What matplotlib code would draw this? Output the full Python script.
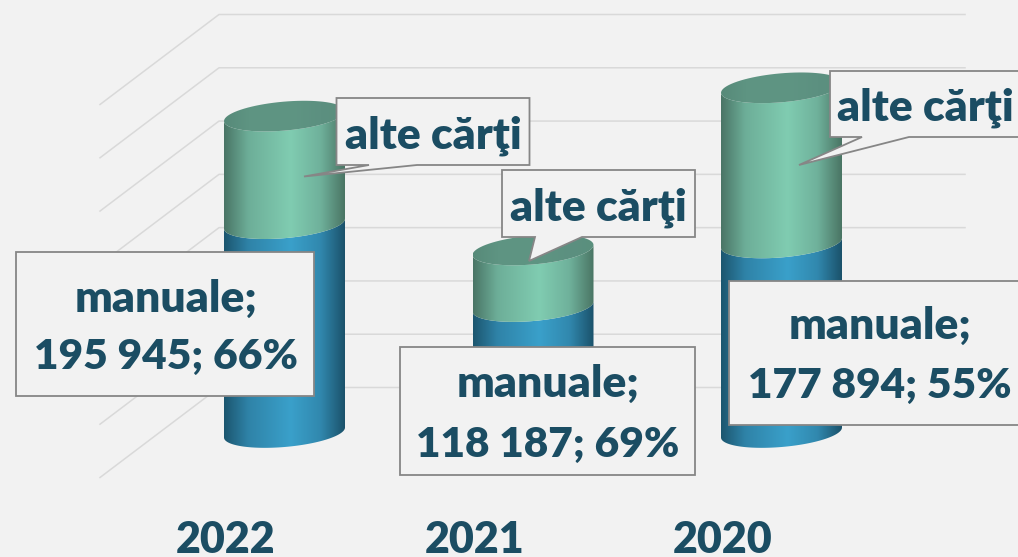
import numpy as np
import matplotlib
matplotlib.use('Agg')
import matplotlib.pyplot as plt
from matplotlib.colors import to_rgb
from matplotlib.patches import Polygon

years = ['2022', '2021', '2020']
manuale = [195945, 118187, 177894]
alte_carti = [100941, 53099, 145550]
manuale_pct = [66, 69, 55]
grid_values = [0, 50000, 100000, 150000, 200000, 250000, 300000, 350000]

W, H = 1018, 557
BG = '#f2f2f2'
TEXT = '#1b4d63'
GRID = '#d9d9d9'
BORDER = '#868686'

# px per unit on the value axis and per category on the x axis
PX_Y = 373 / 350000
PX_X = 248.5
X0_PX, Y0_PX = 284.5, 432.5

BLUE = ['#1c566f', '#2f83a8', '#3aa0ca', '#3188ae', '#1b526b']
GREEN = ['#4a7566', '#6dae98', '#80ccb1', '#6fb19b', '#4a7564']
CAP = ['#578a79', '#5e9482', '#5f9583', '#5c9080', '#5a8f7d']
STOPS = [0, 0.2, 0.55, 0.8, 1]


def dx(px):
    return px / PX_X


def dy(px):
    return px / PX_Y


def gradient(colors):
    t = np.linspace(0, 1, 200)
    rgb = np.array([to_rgb(c) for c in colors])
    return np.stack([np.interp(t, STOPS, rgb[:, i]) for i in range(3)], axis=1)[None, :, :]


def ellipse(x, v, start=0, stop=2 * np.pi):
    # tilted cap of the cylinder, right side sits a bit higher
    t = np.linspace(start, stop, 80)
    return np.column_stack([x + dx(60.5) * np.cos(t),
                            v + dy(14.5) * np.sin(t) + dy(5) * np.cos(t)])


def shaded(ax, outline, x, v0, v1, colors):
    patch = Polygon(outline, closed=True, fc='none', ec='none', transform=ax.transData)
    ax.add_patch(patch)
    im = ax.imshow(gradient(colors), extent=[x - dx(60.5), x + dx(60.5), v0 - dy(30), v1 + dy(30)],
                   aspect='auto', interpolation='bilinear', zorder=3)
    im.set_clip_path(patch)


def segment(ax, x, v0, v1, colors):
    lower = ellipse(x, v0, np.pi, 2 * np.pi)
    upper = ellipse(x, v1, np.pi, 2 * np.pi)[::-1]
    shaded(ax, np.vstack([lower, upper]), x, v0, v1, colors)


fig = plt.figure(figsize=(W / 100, H / 100), dpi=100, facecolor=BG)
ax = fig.add_axes([0, 0, 1, 1], facecolor=BG)
ax.axis('off')

for v in grid_values:
    xs = [dx(100 - X0_PX), dx(219 - X0_PX), dx(965 - X0_PX)]
    ys = [v - dy(45), v + dy(45), v + dy(45)]
    ax.plot(xs, ys, color=GRID, lw=1.1, zorder=1)

for i, (m, a) in enumerate(zip(manuale, alte_carti)):
    segment(ax, i, 0, m, BLUE)
    segment(ax, i, m, m + a, GREEN)
    shaded(ax, ellipse(i, m + a), i, m + a - dy(20), m + a + dy(20), CAP)

ax.set_xlim(-X0_PX / PX_X, (W - X0_PX) / PX_X)
ax.set_ylim((Y0_PX - H) / PX_Y, Y0_PX / PX_Y)

# labels sit on top, placed in pixels
over = fig.add_axes([0, 0, 1, 1], facecolor='none')
over.axis('off')
over.set_xlim(0, W)
over.set_ylim(H, 0)

FONT = dict(family='Lato', fontweight=800, color=TEXT, ha='center', va='baseline', zorder=6)


def callout(box, tail=None):
    x0, x1, y0, y1 = box
    if tail is None:
        pts = [(x0, y0), (x1, y0), (x1, y1), (x0, y1)]
    else:
        pts = [(x0, y0), (x1, y0), (x1, y1), tail[2], tail[1], tail[0], (x0, y1)]
    over.add_patch(Polygon(pts, closed=True, fc=BG, ec=BORDER, lw=1.3, joinstyle='miter', zorder=5))


other_boxes = [(336.5, 529.5, 98, 165), (502, 695, 170, 237), (830, 1030, 71, 137)]
other_tails = [[(369, 165), (304, 176.5), (417, 165)],
               [(535, 237), (529, 261), (582, 237)],
               [(862, 137), (799, 165), (909, 137)]]
other_text = [(433, 148), (598, 220), (925, 121)]

man_boxes = [(16, 314, 252, 396), (400, 695, 346.5, 475), (729, 1030, 281, 424.5)]
man_text = [(166, 312, 369), (548, 397, 457), (880, 339, 398)]

for i in range(3):
    callout(man_boxes[i])
    x, y1, y2 = man_text[i]
    over.text(x, y1, 'manuale;', fontsize=32, **FONT)
    val = f'{manuale[i]:,}'.replace(',', ' ')
    over.text(x, y2, f'{val}; {manuale_pct[i]}%', fontsize=30.5, **FONT)
    callout(other_boxes[i], other_tails[i])
    over.text(other_text[i][0], other_text[i][1], 'alte cărţi', fontsize=32, **FONT)
    # year under the front edge of the floor
    over.text(X0_PX + i * PX_X - 58.5, 553, years[i], fontsize=31, **FONT)

fig.savefig('out.png', dpi=100, facecolor=BG)
